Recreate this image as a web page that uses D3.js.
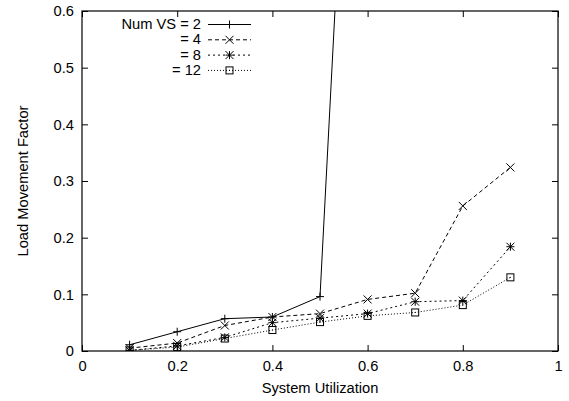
<!DOCTYPE html>
<html>
<head>
<meta charset="utf-8">
<script src="https://cdn.jsdelivr.net/npm/d3@7"></script>
<style>
  body { margin: 0; background: #fff; }
  text { font-family: "Liberation Sans", Arial, sans-serif; font-size: 14.7px; fill: #000; }
</style>
</head>
<body>
<script>
// chart data
var utilization = [0.1, 0.2, 0.3, 0.4, 0.5, 0.6, 0.7, 0.8, 0.9];
var vs2  = [0.011, 0.034, 0.057, 0.060, 0.096, 1.70];
var vs4  = [0.005, 0.014, 0.045, 0.060, 0.066, 0.091, 0.102, 0.256, 0.324];
var vs8  = [0.001, 0.009, 0.024, 0.050, 0.058, 0.066, 0.087, 0.089, 0.184];
var vs12 = [0.001, 0.007, 0.022, 0.037, 0.051, 0.062, 0.068, 0.081, 0.130];
var xTicks = [0, 0.2, 0.4, 0.6, 0.8, 1];
var yTicks = [0, 0.1, 0.2, 0.3, 0.4, 0.5, 0.6];
var legendLabels = ["Num VS = 2", "= 4", "= 8", "= 12"];

var w = 569, h = 401;
var pLeft = 82, pRight = 558, pTop = 11, pBottom = 351;

var svg = d3.select("body").append("svg").attr("width", w).attr("height", h);

var x = d3.scaleLinear().domain([0, 1]).range([pLeft, pRight]);
var y = d3.scaleLinear().domain([0, 0.6]).range([pBottom, pTop]);

var series = [
  {vals: vs2, dash: null, mark: "plus"},
  {vals: vs4, dash: "4,3", mark: "cross"},
  {vals: vs8, dash: "2,3", mark: "star"},
  {vals: vs12, dash: "1,2", mark: "box"}
];

// axes: ticks inward on all four sides
var tl = 6;
svg.append("g").attr("transform", "translate(0," + pBottom + ")")
  .call(d3.axisBottom(x).tickValues(xTicks).tickSize(-tl).tickPadding(10).tickFormat(d3.format("~g")))
  .call(function (g) { g.select(".domain").remove(); });
svg.append("g").attr("transform", "translate(0," + pTop + ")")
  .call(d3.axisTop(x).tickValues(xTicks).tickSize(-tl).tickFormat(""))
  .call(function (g) { g.select(".domain").remove(); });
svg.append("g").attr("transform", "translate(" + pLeft + ",0)")
  .call(d3.axisLeft(y).tickValues(yTicks).tickSize(-tl).tickPadding(8).tickFormat(d3.format("~g")))
  .call(function (g) { g.select(".domain").remove(); });
svg.append("g").attr("transform", "translate(" + pRight + ",0)")
  .call(d3.axisRight(y).tickValues(yTicks).tickSize(-tl).tickFormat(""))
  .call(function (g) { g.select(".domain").remove(); });
svg.selectAll(".tick line").attr("stroke", "#000");

svg.append("rect").attr("x", pLeft).attr("y", pTop).attr("width", pRight - pLeft).attr("height", pBottom - pTop)
  .attr("fill", "none").attr("stroke", "#000").attr("stroke-width", 1.2);

svg.append("text").attr("x", (pLeft + pRight) / 2).attr("y", 393).attr("text-anchor", "middle").text("System Utilization");
svg.append("text").attr("transform", "translate(28," + ((pTop + pBottom) / 2) + ") rotate(-90)")
  .attr("text-anchor", "middle").text("Load Movement Factor");

svg.append("clipPath").attr("id", "clip").append("rect")
  .attr("x", pLeft).attr("y", pTop).attr("width", pRight - pLeft).attr("height", pBottom - pTop);

function drawMark(g, type, cx, cy) {
  var s = 4;
  if (type === "plus" || type === "star") {
    g.append("line").attr("x1", cx - s).attr("x2", cx + s).attr("y1", cy).attr("y2", cy);
    g.append("line").attr("x1", cx).attr("x2", cx).attr("y1", cy - s).attr("y2", cy + s);
  }
  if (type === "cross" || type === "star") {
    g.append("line").attr("x1", cx - s).attr("x2", cx + s).attr("y1", cy - s).attr("y2", cy + s);
    g.append("line").attr("x1", cx - s).attr("x2", cx + s).attr("y1", cy + s).attr("y2", cy - s);
  }
  if (type === "box") {
    g.append("rect").attr("x", cx - 3.5).attr("y", cy - 3.5).attr("width", 7).attr("height", 7).attr("fill", "none");
    g.append("rect").attr("x", cx - 0.5).attr("y", cy - 0.5).attr("width", 1).attr("height", 1).attr("fill", "#000").attr("stroke", "none");
  }
}

var line = d3.line().x(function (d) { return x(d[0]); }).y(function (d) { return y(d[1]); });
var plot = svg.append("g").attr("clip-path", "url(#clip)");

series.forEach(function (s) {
  var pts = s.vals.map(function (v, i) { return [utilization[i], v]; });
  plot.append("path").datum(pts).attr("d", line).attr("fill", "none")
    .attr("stroke", "#000").attr("stroke-width", 1).attr("stroke-dasharray", s.dash);
  var mg = plot.append("g").attr("stroke", "#000").attr("stroke-width", 1);
  pts.forEach(function (p) { drawMark(mg, s.mark, x(p[0]), y(p[1])); });
});

// legend
var lg = svg.append("g");
series.forEach(function (s, i) {
  var ly = 24.5 + i * 15.3;
  lg.append("text").attr("x", 201).attr("y", ly + 4.5).attr("text-anchor", "end").text(legendLabels[i]);
  lg.append("line").attr("x1", 208).attr("x2", 251).attr("y1", ly).attr("y2", ly)
    .attr("stroke", "#000").attr("stroke-dasharray", s.dash);
  var mg = lg.append("g").attr("stroke", "#000").attr("stroke-width", 1);
  drawMark(mg, s.mark, 229.5, ly);
});
</script>
</body>
</html>
